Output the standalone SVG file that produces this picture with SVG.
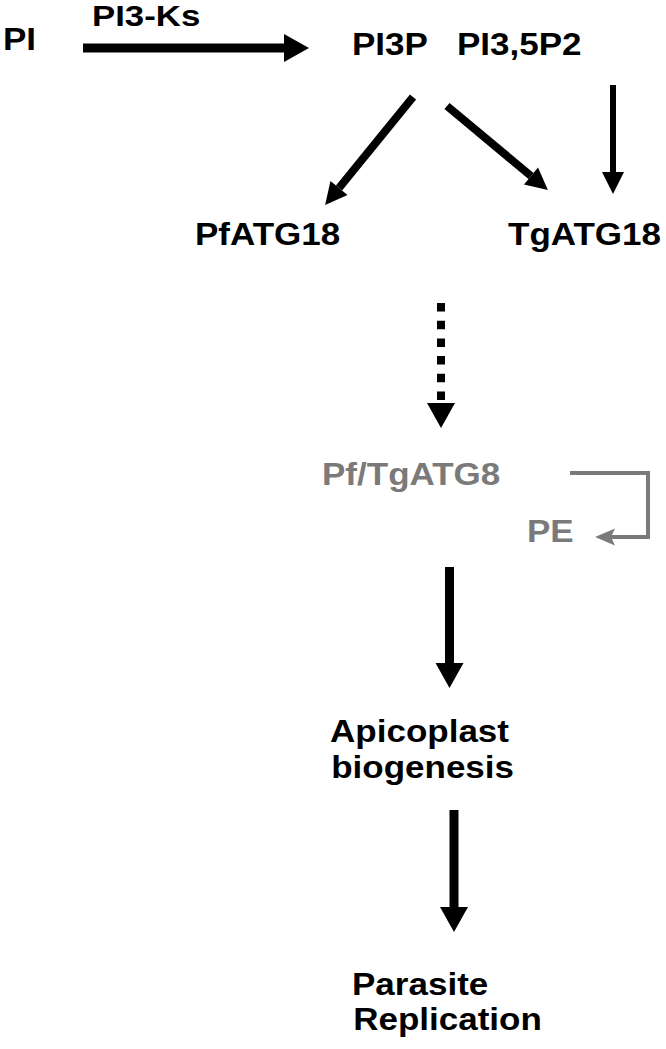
<svg xmlns="http://www.w3.org/2000/svg" width="666" height="1049" viewBox="0 0 666 1049">
<style>
text{font-family:"Liberation Sans",Arial,sans-serif;font-weight:bold;font-size:31px;fill:#000}
.g{fill:#7a7a7a}
.c{stroke:#000;fill:none}
.cg{stroke:#7a7a7a;stroke-width:4;fill:none}
</style>
<defs>
<marker id="ah" markerUnits="userSpaceOnUse" markerWidth="25" markerHeight="28" refX="0" refY="14" orient="auto" overflow="visible"><path d="M0,0 L25,14 L0,28 z" fill="#000"/></marker>
<marker id="ahs" markerUnits="userSpaceOnUse" markerWidth="22" markerHeight="22" refX="0" refY="11" orient="auto" overflow="visible"><path d="M0,0 L22,11 L0,22 z" fill="#000"/></marker>
<marker id="ahg" markerUnits="userSpaceOnUse" markerWidth="20" markerHeight="17" refX="4" refY="8.5" orient="auto" overflow="visible"><path d="M0,0 L20,8.5 L0,17 L4,8.5 z" fill="#7a7a7a"/></marker>
</defs>
<g id="connectors">
<line class="c" x1="83" y1="48" x2="284" y2="48" stroke-width="9" marker-end="url(#ah)"/>
<line class="c" x1="413" y1="97" x2="339" y2="188" stroke-width="8" marker-end="url(#ahs)"/>
<line class="c" x1="447" y1="106" x2="531" y2="176" stroke-width="8" marker-end="url(#ahs)"/>
<line class="c" x1="613" y1="85" x2="613" y2="172" stroke-width="6" marker-end="url(#ahs)"/>
<line class="c" x1="441" y1="303" x2="441" y2="403" stroke-width="8" stroke-dasharray="8.5 9.2" marker-end="url(#ah)"/>
<path class="cg" d="M570,473 H648 V537 H611" marker-end="url(#ahg)"/>
<line class="c" x1="449.5" y1="567" x2="449.5" y2="663" stroke-width="9" marker-end="url(#ah)"/>
<line class="c" x1="454" y1="810" x2="454" y2="907" stroke-width="9" marker-end="url(#ah)"/>
</g>
<g id="pi"><text transform="translate(3,50) scale(1.13,1)">PI</text></g>
<g id="pi3ks"><text transform="translate(92,26) scale(1.2,1)" style="font-size:29px">PI3-Ks</text></g>
<g id="pi3p"><text transform="translate(352,55) scale(1.13,1)">PI3P</text></g>
<g id="pi35p2"><text transform="translate(457,55) scale(1.13,1)">PI3,5P2</text></g>
<g id="pfatg18"><text transform="translate(195,245) scale(1.13,1)">PfATG18</text></g>
<g id="tgatg18"><text transform="translate(508,245) scale(1.13,1)">TgATG18</text></g>
<g id="atg8"><text class="g" transform="translate(322,485) scale(1.13,1)">Pf/TgATG8</text></g>
<g id="pe"><text class="g" transform="translate(527,542) scale(1.13,1)">PE</text></g>
<g id="apicoplast"><text transform="translate(330,742) scale(1.13,1)"><tspan x="0" y="0">Apicoplast</tspan><tspan x="1" y="36">biogenesis</tspan></text></g>
<g id="parasite"><text transform="translate(352,995) scale(1.13,1)"><tspan x="0" y="0">Parasite</tspan><tspan x="1" y="35">Replication</tspan></text></g>
</svg>
